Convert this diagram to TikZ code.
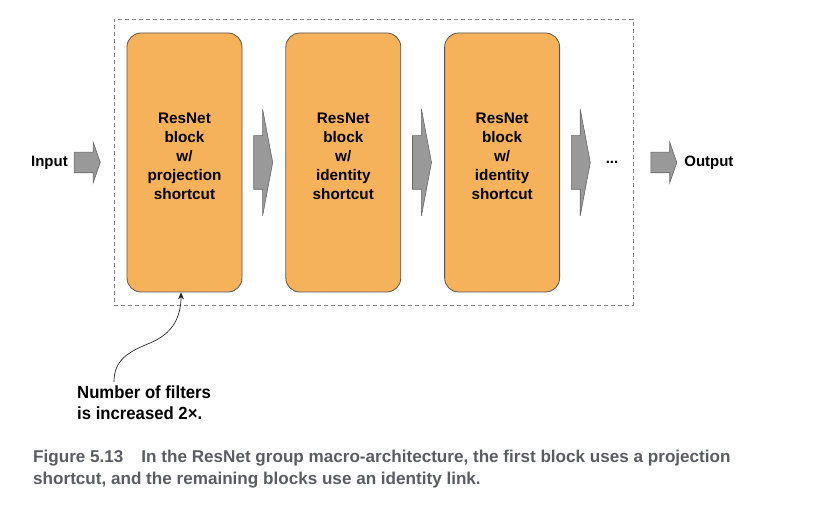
\documentclass[tikz,border=0pt]{standalone}
\usepackage{fontspec}
\setmainfont{Liberation Sans}
\newfontfamily\notefont{Liberation Sans}[FakeStretch=0.95]
\newfontfamily\capfont{Liberation Sans}
\usetikzlibrary{positioning}
\usetikzlibrary{shapes.arrows}
\usetikzlibrary{arrows.meta}
\definecolor{blockorange}{RGB}{246,178,90}
\definecolor{blockedge}{RGB}{85,85,85}
\definecolor{arrowgray}{RGB}{153,153,153}
\definecolor{capgray}{RGB}{90,92,98}
\tikzset{node distance=43pt, % Gap between two ResNet blocks
      resblock/.style={ % The orange ResNet blocks
      draw=blockedge, line width=0.8pt,
      fill=blockorange,
      rounded corners=14pt,
      minimum width=115pt, minimum height=259pt, inner sep=0pt},
      blocktext/.style={font=\bfseries\fontsize{15.3}{19}\selectfont, align=center, inner sep=0pt},
      passarrow/.style={ % Fat gray arrows between the blocks
      single arrow, draw=gray!80!black, fill=arrowgray, line width=0.6pt,
      inner xsep=0pt, inner ysep=26.5pt,
      minimum height=19pt,
      single arrow head extend=26.5pt, single arrow tip angle=158.6},
      ioarrow/.style={ % Small gray arrows for input and output
      single arrow, draw=gray!80!black, fill=arrowgray, line width=0.6pt,
      inner xsep=0pt, inner ysep=10pt,
      minimum height=26pt,
      single arrow head extend=10pt, single arrow tip angle=141.4},
      iolabel/.style={font=\bfseries\fontsize{15}{18}\selectfont, inner sep=0pt},
      groupbox/.style={draw=gray, line width=0.8pt, dash pattern=on 4pt off 3pt,
      minimum width=519pt, minimum height=286pt, inner sep=0pt},
      notetext/.style={font=\notefont\bfseries\fontsize{17.6}{20.5}\selectfont, align=left, inner sep=0pt},
      captext/.style={font=\capfont\bfseries\fontsize{17.1}{22}\selectfont, text=capgray, align=left, inner sep=0pt},
      pointer/.style={-{Stealth[length=7pt,width=6pt]}, line width=0.7pt, black!85}}

\begin{document}
\begin{tikzpicture}[x=1pt,y=-1pt]
      \useasboundingbox (0,0) rectangle (823,513);
      \node[groupbox] (group) at (373.5,162) {};
      \node[resblock] (b1) at (184.5,162.5) {};
      \node[resblock, right=of b1] (b2) {};
      \node[resblock, right=of b2] (b3) {};
      \node[blocktext] (t1) at ([yshift=6pt]b1.center) {ResNet\\block\\w/\\projection\\shortcut};
      \node[blocktext] (t2) at ([yshift=6pt]b2.center) {ResNet\\block\\w/\\identity\\shortcut};
      \node[blocktext] (t3) at ([yshift=6pt]b3.center) {ResNet\\block\\w/\\identity\\shortcut};
      \node[passarrow, right=11pt of b1] (s1) {};
      \node[passarrow, right=11pt of b2] (s2) {};
      \node[passarrow, right=11pt of b3] (s3) {};
      \node[iolabel, right=15pt of s3] (dots) {...};
      \node[ioarrow, left=26pt of b1] (inarr) {};
      \node[iolabel, left=6pt of inarr] (in) {Input};
      \node[ioarrow, right=32pt of dots] (outarr) {};
      \node[iolabel, right=7pt of outarr] (out) {Output};
      \node[notetext, anchor=north west] (note) at (77,386) {Number of filters\\is increased 2×.};
      \draw[pointer] ([xshift=37pt,yshift=4pt]note.north west) .. controls (114,360) and (128,352) .. (150,343)
            .. controls (172,334) and (181,318) .. ([xshift=-3.5pt]b1.south);
      \node[captext, anchor=north west] (cap) at (33,450) {Figure 5.13\hspace{18pt}In the ResNet group macro-architecture, the first block uses a projection\\shortcut, and the remaining blocks use an identity link.};
\end{tikzpicture}
\end{document}
